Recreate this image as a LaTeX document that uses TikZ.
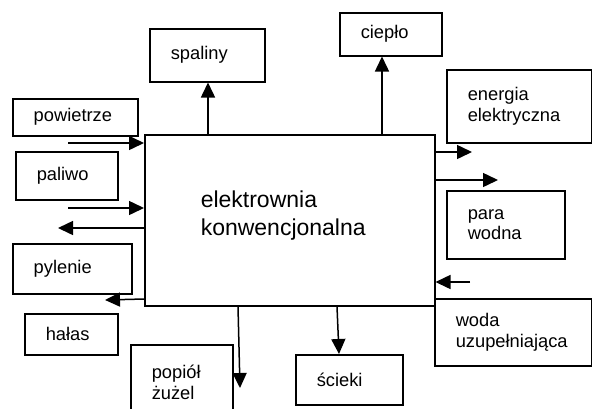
\documentclass[tikz,border=0pt]{standalone}
\usepackage{fontspec}
\setmainfont{Liberation Sans}
\usetikzlibrary{arrows.meta}

\tikzset{
  ramka/.style={draw, line width=1.5pt, inner xsep=21pt, inner ysep=0pt, align=left,
    anchor=north west, font=\fontsize{18.3}{20.5}\selectfont},
  strzalka/.style={line width=1.5pt, -{Triangle[length=15pt,width=14pt]}}
}

\begin{document}
\begin{tikzpicture}[x=1pt,y=-1pt]
  \useasboundingbox (0,0) rectangle (592,408);
  \clip (0,0) rectangle (592,408);

  % elektrownia
  \node (main) [ramka, inner xsep=56pt, minimum width=290pt, minimum height=171pt,
    text width=178pt, font=\fontsize{23}{28}\selectfont] at (144,134)
    {elektrownia\\konwencjonalna\\[-14pt]\mbox{}};

  % lewa strona
  \node (powietrze) [ramka, minimum width=125pt, minimum height=37pt, text width=83pt] at (12,98) {powietrze};
  \node (paliwo) [ramka, minimum width=102pt, minimum height=48pt, text width=60pt] at (15,151) {paliwo};
  \node (pylenie) [ramka, minimum width=119pt, minimum height=50pt, text width=77pt] at (12,243) {pylenie};
  \node (halas) [ramka, minimum width=93pt, minimum height=41pt, text width=51pt] at (24,313) {hałas};

  % dol
  \node (popiol) [ramka, minimum width=102pt, minimum height=75pt, text width=60pt] at (130,344) {popiół\\żużel};
  \node (scieki) [ramka, minimum width=107pt, minimum height=50pt, text width=65pt] at (295,354) {ścieki};

  % gora
  \node (spaliny) [ramka, minimum width=115pt, minimum height=53pt, text width=73pt] at (149,28) {spaliny};
  \node (cieplo) [ramka, minimum width=102pt, minimum height=43pt, text width=60pt] at (339,12) {ciepło};

  % prawa strona
  \node (energia) [ramka, minimum width=145pt, minimum height=73pt, text width=103pt] at (446,69) {energia\\elektryczna};
  \node (para) [ramka, minimum width=118pt, minimum height=68pt, text width=76pt] at (446,190) {para\\wodna};
  \node (woda) [ramka, minimum width=157pt, minimum height=67pt, text width=115pt] at (434,298) {woda\\uzupełniająca};

  % wolne konce strzalek
  \coordinate (we1) at (68,143);
  \coordinate (we2) at (68,208);
  \coordinate (wy1) at (58,228);
  \coordinate (wy2) at (105,300);
  \coordinate (wy3) at (240,388);
  \coordinate (we3) at (470,282);
  \coordinate (wy4) at (472,152);
  \coordinate (wy5) at (498,180);

  \draw[strzalka] (we1) -- (we1 -| main.west);
  \draw[strzalka] (we2) -- (we2 -| main.west);
  \draw[strzalka] (wy1 -| main.west) -- (wy1);
  \draw[strzalka] (main.west |- 0,299) -- (wy2);
  \draw[strzalka] (main.south -| 238,0) -- (wy3);
  \draw[strzalka] (main.south -| 337,0) -- (scieki.north -| 339,0);
  \draw[strzalka] (we3) -- (we3 -| main.east);
  \draw[strzalka] (wy4 -| main.east) -- (wy4);
  \draw[strzalka] (wy5 -| main.east) -- (wy5);
  \draw[strzalka] (main.north -| 208,0) -- (spaliny.south -| 208,0);
  \draw[strzalka] (main.north -| 382,0) -- (cieplo.south -| 382,0);
\end{tikzpicture}
\end{document}
